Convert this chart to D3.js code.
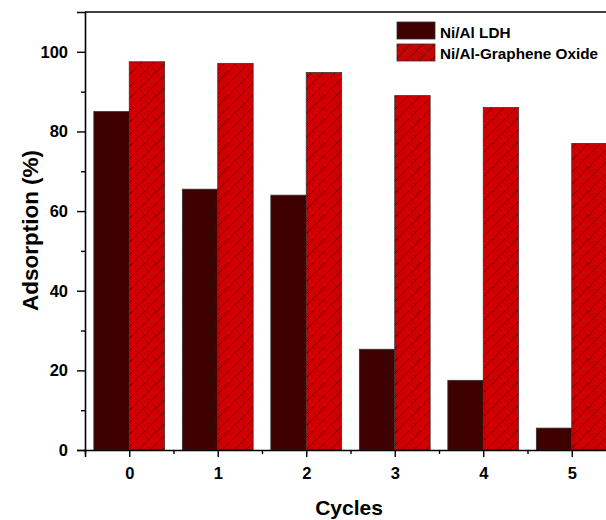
<!DOCTYPE html>
<html>
<head>
<meta charset="utf-8">
<script src="https://cdn.jsdelivr.net/npm/d3@7"></script>
<style>
  body { margin: 0; background: #fff; }
  text { font-family: "Liberation Sans", Arial, sans-serif; font-weight: bold; }
</style>
</head>
<body>
<div id="chart"></div>
<script>
// data
const cycles = [0, 1, 2, 3, 4, 5];
const ldh = [85, 65.5, 64, 25.3, 17.5, 5.5];
const grapheneOxide = [97.5, 97.1, 94.8, 89, 86, 77];
const seriesNames = ["Ni/Al LDH", "Ni/Al-Graphene Oxide"];
const yTicks = [0, 20, 40, 60, 80, 100];

const W = 606, H = 520;
const plotLeft = 85, plotTop = 12, plotBottom = 450;

const svg = d3.select("#chart").append("svg")
  .attr("width", W).attr("height", H);

const x = d3.scaleLinear().domain([-0.5, 5.5]).range([plotLeft, plotLeft + 6 * 88.5]);
const y = d3.scaleLinear().domain([0, 110]).range([plotBottom, plotTop]);

// hatch pattern, one "/" per tile
const hs = 12;
const defs = svg.append("defs");
const pat = defs.append("pattern")
  .attr("id", "hatch").attr("patternUnits", "userSpaceOnUse")
  .attr("width", hs).attr("height", hs);
pat.append("rect").attr("width", hs).attr("height", hs).attr("fill", "#cc0000");
pat.append("path")
  .attr("d", `M0,${hs} L${hs},0 M-2,2 L2,-2 M${hs - 2},${hs + 2} L${hs + 2},${hs - 2}`)
  .attr("stroke", "#1a0000").attr("stroke-width", 0.9)
  .attr("stroke-dasharray", "1.4,0.6");

const barW = (x(1) - x(0)) * 0.4;

svg.append("g").selectAll("rect")
  .data(cycles).join("rect")
  .attr("x", (d) => x(d) - barW)
  .attr("y", (d, i) => y(ldh[i]))
  .attr("width", barW)
  .attr("height", (d, i) => y(0) - y(ldh[i]))
  .attr("fill", "#3f0000")
  .attr("stroke", "#333").attr("stroke-width", 0.8);

svg.append("g").selectAll("rect")
  .data(cycles).join("rect")
  .attr("x", (d) => x(d))
  .attr("y", (d, i) => y(grapheneOxide[i]))
  .attr("width", barW)
  .attr("height", (d, i) => y(0) - y(grapheneOxide[i]))
  .attr("fill", "url(#hatch)")
  .attr("stroke", "#333").attr("stroke-width", 0.8);

// y axis
const yAxis = svg.append("g").attr("transform", `translate(${plotLeft},0)`)
  .call(d3.axisLeft(y).tickValues(yTicks).tickSize(8).tickPadding(9));
yAxis.selectAll("text").style("font-size", "16.5px").attr("fill", "#000");
svg.append("g").attr("transform", `translate(${plotLeft},0)`)
  .call(d3.axisLeft(y).tickValues([10, 30, 50, 70, 90]).tickSize(4).tickFormat(""))
  .select(".domain").remove();

// x axis
const xAxis = svg.append("g").attr("transform", `translate(0,${plotBottom})`)
  .call(d3.axisBottom(x).tickValues(cycles).tickSize(7).tickPadding(10).tickFormat(d3.format("d")));
xAxis.selectAll("text").style("font-size", "16.5px").attr("fill", "#000");
svg.append("g").attr("transform", `translate(0,${plotBottom})`)
  .call(d3.axisBottom(x).tickValues([-0.5, 0.5, 1.5, 2.5, 3.5, 4.5]).tickSize(4).tickFormat(""))
  .select(".domain").remove();

svg.selectAll(".domain").attr("stroke-width", 1.6);
svg.selectAll(".tick line").attr("stroke-width", 1.4);

// top border
svg.append("line")
  .attr("x1", plotLeft).attr("x2", W).attr("y1", y(110)).attr("y2", y(110))
  .attr("stroke", "#000").attr("stroke-width", 1.6);

// axis titles
svg.append("text")
  .attr("transform", "translate(38,230.5) rotate(-90)")
  .attr("text-anchor", "middle")
  .style("font-size", "22.5px")
  .text("Adsorption (%)");

svg.append("text")
  .attr("x", 349).attr("y", 515)
  .attr("text-anchor", "middle")
  .style("font-size", "21px")
  .text("Cycles");

// legend
const legend = svg.append("g").attr("transform", "translate(397,22)");
const fills = ["#3f0000", "url(#hatch)"];
seriesNames.forEach((name, i) => {
  legend.append("rect")
    .attr("x", 0).attr("y", i * 22)
    .attr("width", 38).attr("height", 17)
    .attr("fill", fills[i]).attr("stroke", "#333").attr("stroke-width", 0.8);
  legend.append("text")
    .attr("x", 43).attr("y", i * 21.5 + 15.5)
    .style("font-size", "15.3px")
    .text(name);
});
</script>
</body>
</html>
